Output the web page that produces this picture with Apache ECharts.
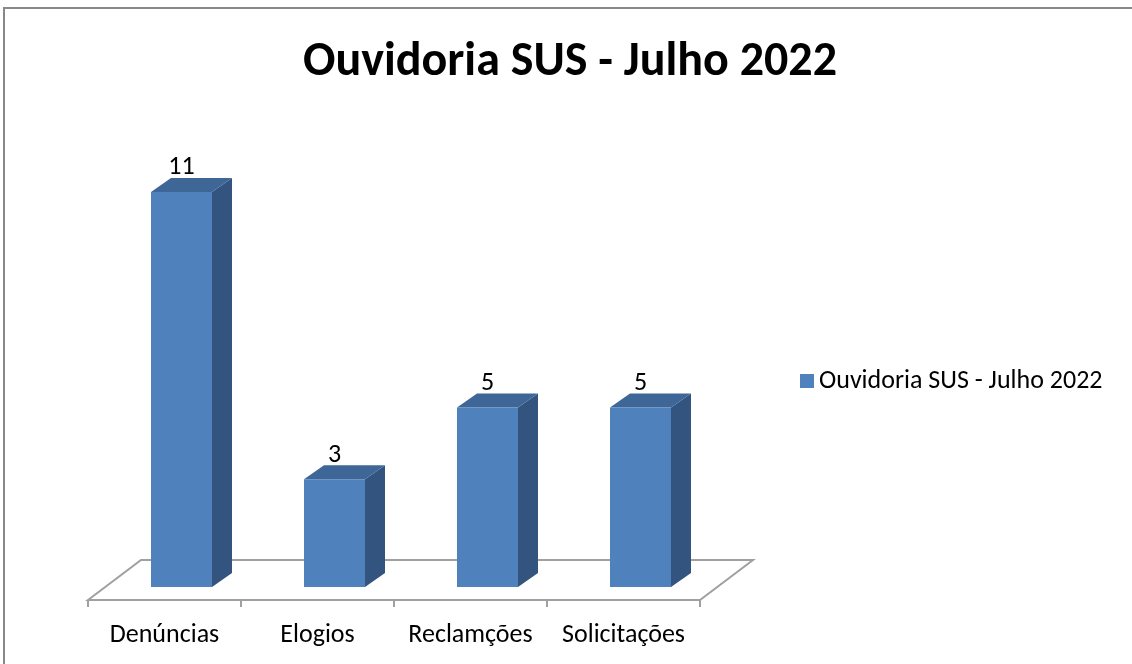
<!DOCTYPE html>
<html>
<head>
<meta charset="utf-8">
<script src="https://cdn.jsdelivr.net/npm/echarts@6/dist/echarts.min.js"></script>
<style>
  html, body { margin: 0; padding: 0; background: #fff; }
  #chart { width: 1132px; height: 664px; }
</style>
</head>
<body>
<div id="chart"></div>
<script>
var categorias = ['Denúncias', 'Elogios', 'Reclamções', 'Solicitações']
var valores = [11, 3, 5, 5]
var nomeSerie = 'Ouvidoria SUS - Julho 2022'

var fonte = 'Carlito, Lato, "Noto Sans", sans-serif'
var corFrente = '#4f81bd'
var corTopo = '#3e6696'
var corLado = '#32547f'
var corPiso = '#a0a0a0'

var charts = echarts.init(document.getElementById('chart'))

// barra 3D: frente, lado e topo
function desenhaBarra (params, api) {
  var x = api.value(0)
  var v = api.value(1)
  var topo = api.coord([x, v])
  var base = api.coord([x, 0])
  var w = 61
  var dx = 20
  var dy = -14
  var l = topo[0] - w / 2
  var r = topo[0] + w / 2
  return {
    type: 'group',
    children: [{
      type: 'polygon',
      shape: { points: [[r, topo[1]], [r + dx, topo[1] + dy], [r + dx, base[1] + dy], [r, base[1]]] },
      style: { fill: corLado }
    }, {
      type: 'polygon',
      shape: { points: [[l, topo[1]], [l + dx, topo[1] + dy], [r + dx, topo[1] + dy], [r, topo[1]]] },
      style: { fill: corTopo }
    }, {
      type: 'rect',
      shape: { x: l, y: topo[1], width: w, height: base[1] - topo[1] },
      style: { fill: corFrente }
    }, {
      type: 'text',
      style: {
        text: String(v),
        x: topo[0],
        y: topo[1] + dy + 3,
        align: 'center',
        verticalAlign: 'bottom',
        font: '26px ' + fonte,
        fill: '#000'
      }
    }]
  }
}

// piso em perspectiva com marcas do eixo
function desenhaPiso (params, api) {
  var cs = params.coordSys
  var y0 = cs.y + cs.height
  var fx = cs.x - 17
  var fy = y0 + 13
  var fw = cs.width
  var bx = fx + 53
  var by = fy - 40
  var estilo = { stroke: corPiso, lineWidth: 2, fill: null }
  var filhos = [{
    type: 'polygon',
    shape: { points: [[fx, fy], [bx, by], [bx + fw, by], [fx + fw, fy]] },
    style: { stroke: corPiso, lineWidth: 2, fill: '#fff' }
  }]
  var passo = fw / categorias.length
  for (var i = 0; i <= categorias.length; i++) {
    filhos.push({
      type: 'line',
      shape: { x1: fx + i * passo, y1: fy, x2: fx + i * passo, y2: fy + 7 },
      style: estilo
    })
  }
  return { type: 'group', children: filhos }
}

var options = {
  animation: false,
  title: {
    text: nomeSerie,
    left: 565,
    textAlign: 'center',
    top: 34,
    textStyle: {
      fontFamily: fonte,
      fontWeight: 'bold',
      fontSize: 48,
      color: '#000'
    }
  },
  graphic: [{
    type: 'rect',
    shape: { x: 4, y: 8, width: 1200, height: 700 },
    style: { fill: null, stroke: '#888', lineWidth: 2 },
    silent: true
  }],
  legend: {
    data: [nomeSerie],
    left: 800,
    top: 368,
    padding: 0,
    icon: 'rect',
    itemWidth: 14,
    itemHeight: 14,
    itemGap: 8,
    textStyle: {
      fontFamily: fonte,
      fontSize: 26,
      color: '#000'
    }
  },
  grid: {
    left: 105,
    width: 612,
    top: 156,
    bottom: 77
  },
  xAxis: {
    type: 'category',
    data: categorias,
    axisLine: { show: false },
    axisTick: { show: false },
    axisLabel: {
      margin: 35,
      padding: [0, 34, 0, 0],
      fontFamily: fonte,
      fontSize: 26,
      color: '#000',
      interval: 0
    }
  },
  yAxis: {
    type: 'value',
    min: 0,
    max: 12,
    show: false,
    splitLine: { show: false }
  },
  series: [{
    type: 'custom',
    silent: true,
    z: 1,
    renderItem: desenhaPiso,
    data: [[0, 0]]
  }, {
    name: nomeSerie,
    type: 'custom',
    z: 2,
    itemStyle: { color: corFrente },
    renderItem: desenhaBarra,
    encode: { x: 0, y: 1 },
    data: categorias.map(function (c, i) { return [i, valores[i]] })
  }]
}

charts.setOption(options)
window.addEventListener('resize', function () {
  charts.resize()
})
</script>
</body>
</html>
